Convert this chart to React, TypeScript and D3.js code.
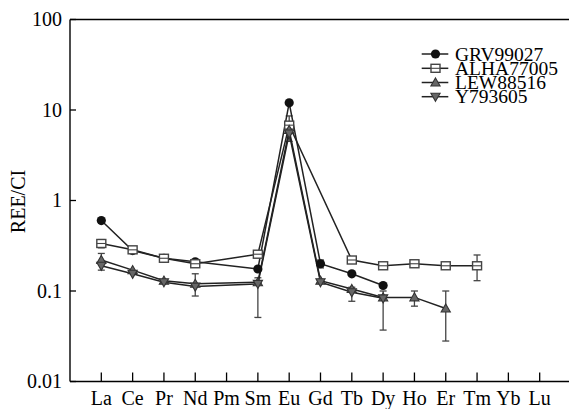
import React from 'react';
import * as d3 from 'd3';

const elements = ['La', 'Ce', 'Pr', 'Nd', 'Pm', 'Sm', 'Eu', 'Gd', 'Tb', 'Dy', 'Ho', 'Er', 'Tm', 'Yb', 'Lu'];
const yTicks = [0.01, 0.1, 1, 10, 100];
const yTickLabels = ['0.01', '0.1', '1', '10', '100'];

type V = number | null;

const grv99027: V[] = [0.6, 0.28, 0.23, 0.21, null, 0.175, 12, 0.2, 0.155, 0.115, null, null, null, null, null];
const alha77005: V[] = [0.335, 0.285, 0.23, 0.2, null, 0.255, 6.8, null, 0.22, 0.19, 0.2, 0.19, 0.19, null, null];
const lew88516: V[] = [0.22, 0.17, 0.13, 0.12, null, 0.125, 6.0, 0.13, 0.105, 0.085, 0.085, 0.064, null, null, null];
const y793605: V[] = [0.19, 0.155, 0.125, 0.112, null, 0.12, 5.5, 0.125, 0.097, 0.083, null, null, null, null, null];

// error bars: [element, low, high]
const errGrv: [string, number, number][] = [['Gd', 0.18, 0.22]];
const errAlha: [string, number, number][] = [['La', 0.3, 0.37], ['Tm', 0.13, 0.25]];
const errLew: [string, number, number][] = [
  ['La', 0.17, 0.26], ['Nd', 0.088, 0.155], ['Sm', 0.051, 0.14], ['Eu', 4.5, 8.6],
  ['Dy', 0.037, 0.1], ['Ho', 0.068, 0.1], ['Er', 0.028, 0.1],
];
const errY: [string, number, number][] = [['Tb', 0.077, 0.11]];

const seriesNames = ['GRV99027', 'ALHA77005', 'LEW88516', 'Y793605'];

const W = 569;
const H = 409;
const left = 70;
const top = 19.5;
const bottom = 381.5;
const right = 571;
const FONT = 'Liberation Serif, Times New Roman, serif';

const x = d3.scalePoint<string>().domain(elements).range([left, right]).padding(1);
const y = d3.scaleLog().domain([0.01, 100]).range([bottom, top]);

const Marker: React.FC<{ kind: number; cx: number; cy: number }> = ({ kind, cx, cy }) => {
  if (kind === 0) return <circle cx={cx} cy={cy} r={4.6} fill="#111" />;
  if (kind === 1)
    return (
      <g>
        <rect x={cx - 4.5} y={cy - 4} width={9} height={8} fill="#fff" stroke="#444" strokeWidth={1.4} />
        <line x1={cx - 4.5} x2={cx + 4.5} y1={cy} y2={cy} stroke="#444" strokeWidth={1.1} />
      </g>
    );
  const s = 4.6;
  const pts =
    kind === 2
      ? [[cx, cy - s], [cx + s, cy + s * 0.75], [cx - s, cy + s * 0.75]]
      : [[cx, cy + s], [cx + s, cy - s * 0.75], [cx - s, cy - s * 0.75]];
  return <polygon points={pts.map(p => p.join(',')).join(' ')} fill="#666" stroke="#333" strokeWidth={1.1} />;
};

export default function App() {
  const all = [grv99027, alha77005, lew88516, y793605];
  const errs = [errGrv, errAlha, errLew, errY];
  const line = d3
    .line<[string, number]>()
    .x(d => x(d[0]) as number)
    .y(d => y(d[1]));

  const legendBaselines = [60.7, 75, 89.2, 103.4];
  const txt = { fontFamily: FONT, fontSize: 20 } as React.CSSProperties;

  return (
    <svg width={W} height={H} style={{ position: 'absolute', left: 0, top: 0 }}>
      <rect width={W} height={H} fill="#fff" />

      {/* frame */}
      <line x1={left} x2={W + 5} y1={top} y2={top} stroke="#000" strokeWidth={1.4} />
      <line x1={left} x2={left} y1={top} y2={bottom} stroke="#000" strokeWidth={1.4} />
      <line x1={left} x2={W + 5} y1={bottom} y2={bottom} stroke="#000" strokeWidth={1.4} />

      {/* y ticks */}
      {yTicks.map((t, i) => (
        <g key={t}>
          <line x1={left} x2={left + 6} y1={y(t)} y2={y(t)} stroke="#000" strokeWidth={1.3} />
          <text x={left - 8} y={y(t) + 6.7} textAnchor="end" style={txt}>
            {yTickLabels[i]}
          </text>
        </g>
      ))}

      {/* x ticks */}
      {elements.map(e => (
        <g key={e}>
          <line x1={x(e)} x2={x(e)} y1={bottom} y2={bottom - 9} stroke="#000" strokeWidth={1.3} />
          <text x={x(e)} y={405} textAnchor="middle" style={txt}>
            {e}
          </text>
        </g>
      ))}

      <text transform="translate(25,201.5) rotate(-90)" textAnchor="middle" style={txt}>
        REE/CI
      </text>

      {/* error bars */}
      {errs.map((list, si) =>
        list.map(([e, lo, hi]) => {
          const cx = x(e) as number;
          return (
            <g key={si + e} stroke="#444" strokeWidth={1.3}>
              <line x1={cx} x2={cx} y1={y(lo)} y2={y(hi)} />
              <line x1={cx - 3.5} x2={cx + 3.5} y1={y(lo)} y2={y(lo)} />
              <line x1={cx - 3.5} x2={cx + 3.5} y1={y(hi)} y2={y(hi)} />
            </g>
          );
        })
      )}

      {/* lines */}
      {all.map((vals, si) => {
        const pts = elements.map((e, i) => [e, vals[i]] as [string, V]).filter(d => d[1] != null) as [string, number][];
        return <path key={si} d={line(pts) || ''} fill="none" stroke="#222" strokeWidth={1.5} />;
      })}

      {/* markers */}
      {all.map((vals, si) =>
        elements.map((e, i) =>
          vals[i] == null ? null : <Marker key={si + e} kind={si} cx={x(e) as number} cy={y(vals[i] as number)} />
        )
      )}

      {/* legend */}
      {seriesNames.map((n, i) => {
        const cy = legendBaselines[i] - 6.7;
        return (
          <g key={n}>
            <line x1={421.7} x2={448.3} y1={cy} y2={cy} stroke="#222" strokeWidth={1.5} />
            <Marker kind={i} cx={435.5} cy={cy} />
            <text x={455} y={legendBaselines[i]} style={{ ...txt, fontSize: 19.5 }}>
              {n}
            </text>
          </g>
        );
      })}
    </svg>
  );
}
